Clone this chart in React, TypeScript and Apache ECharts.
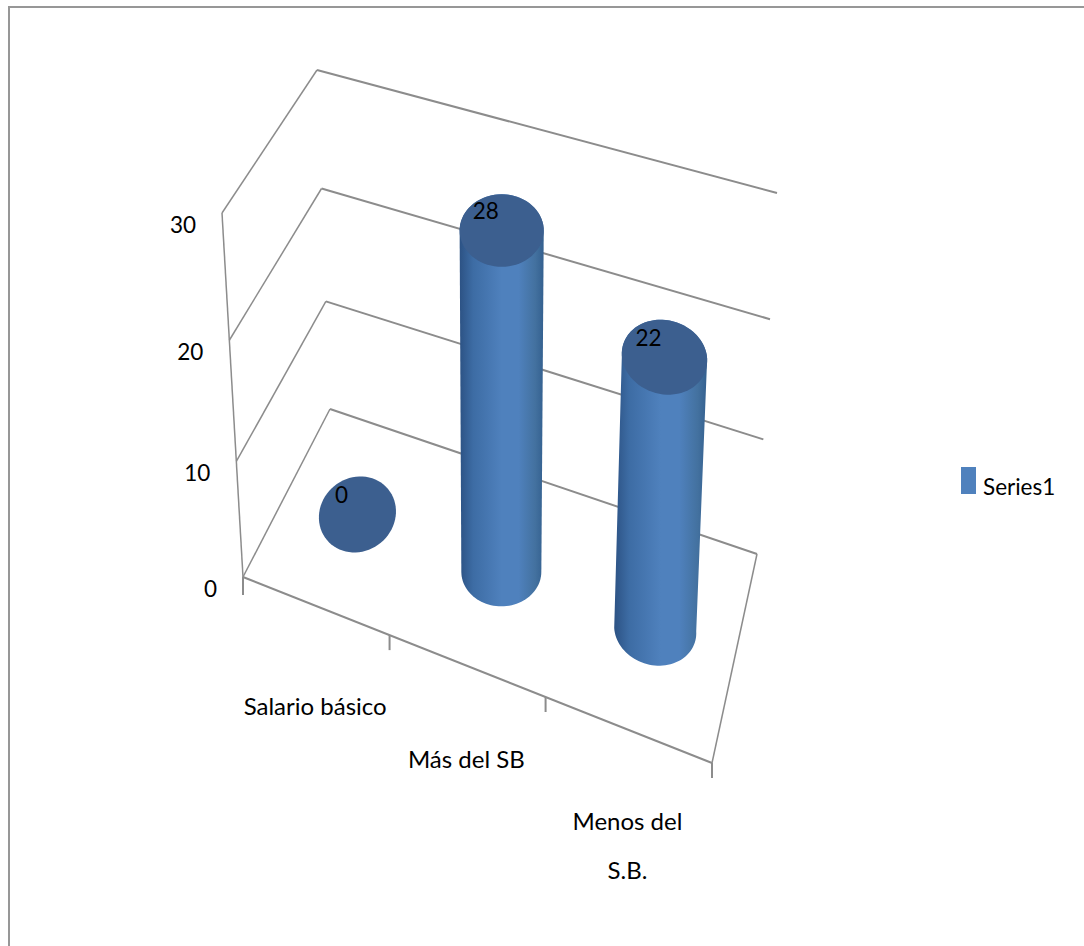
import React, { useEffect, useRef } from "react";
import * as echarts from "echarts";

const categories = ["Salario básico", "Más del SB", "Menos del\nS.B."];
const seriesValues = [0, 28, 22];
const valueTicks = [0, 10, 20, 30];
const seriesName = "Series1";

const W = 1084, H = 946;
const FONT = "Lato, 'Open Sans', sans-serif";
const GRID_COLOR = "#8c8c8c";
const CAP_COLOR = "#3c5f8f";
const BAR_COLOR = "#4f81bd";

// 3D box corners on screen (floor and ceiling of the plot box)
type Pt = [number, number];
const FL: Pt = [243, 577], FR: Pt = [712, 763], BR: Pt = [757, 554], BL: Pt = [330, 409];
const FLt: Pt = [222, 213], FRt: Pt = [731, 354], BRt: Pt = [777, 193], BLt: Pt = [317, 70];
const lerp = (a: Pt, b: Pt, t: number): Pt => [a[0] + (b[0] - a[0]) * t, a[1] + (b[1] - a[1]) * t];
const warpU = (u: number) => u / (1 + 0.1 * (1 - u));
const warpV = (s: number) => s / (1 + 0.075 * (1 - s));
function project(u: number, d: number, s: number): Pt {
  const w = warpU(u);
  const floor = lerp(lerp(FL, FR, w), lerp(BL, BR, w), d);
  const top = lerp(lerp(FLt, FRt, w), lerp(BLt, BRt, w), d);
  return lerp(floor, top, warpV(s));
}
// normalised position from the (hidden) cartesian axes
function norm(api: any, cat: number, val: number): [number, number] {
  const c = api.coord([cat, val]);
  return [c[0] / W, 1 - c[1] / H];
}

const RX = [38.5, 40, 41];
const RY = [38, 34.5, 36];
const TILT = [1.8, 0, -2.2];
const NUDGE: Pt[] = [[2, -4], [1.5, 0], [1.5, 1]];
const LABEL_DROP = [99, 92, 91];

function arc(c: Pt, rx: number, ry: number, tilt: number, from: number, to: number, n = 48): Pt[] {
  const out: Pt[] = [];
  for (let i = 0; i <= n; i++) {
    const a = from + ((to - from) * i) / n;
    out.push([c[0] + rx * Math.cos(a) - tilt * Math.sin(a), c[1] + ry * Math.sin(a) - 0.7 * tilt * Math.cos(a)]);
  }
  return out;
}

const bodyGradient = new echarts.graphic.LinearGradient(0, 0, 1, 0, [
  { offset: 0, color: "#2c5284" },
  { offset: 0.16, color: "#3d6ca4" },
  { offset: 0.5, color: "#4f81bd" },
  { offset: 0.7, color: "#4f81bd" },
  { offset: 0.9, color: "#43719f" },
  { offset: 1, color: "#34608f" },
]);

function renderFrame(_: any, api: any) {
  const s = norm(api, 0, api.value(1))[1];
  const a = project(0, 0, s), b = project(0, 1, s), c = project(1, 1, s);
  const wide = { stroke: GRID_COLOR, lineWidth: 2, fill: "none" };
  const thin = { stroke: GRID_COLOR, lineWidth: 1.5 };
  const children: any[] = [
    { type: "line", shape: { x1: a[0], y1: a[1], x2: b[0], y2: b[1] }, style: thin },
    { type: "line", shape: { x1: b[0], y1: b[1], x2: c[0], y2: c[1] }, style: wide },
    {
      type: "text",
      style: { x: a[0] - 26, y: a[1] + 11, text: String(api.value(1)), fontSize: 22.5, fontFamily: FONT, fill: "#000", align: "right", verticalAlign: "middle" },
    },
  ];
  if (s === 0) {
    const fr = project(1, 0, 0);
    children.push({ type: "line", shape: { x1: a[0], y1: a[1], x2: fr[0], y2: fr[1] }, style: wide });
    children.push({ type: "line", shape: { x1: fr[0], y1: fr[1], x2: c[0], y2: c[1] }, style: thin });
    children.push({ type: "line", shape: { x1: a[0], y1: a[1], x2: a[0], y2: a[1] + 18 }, style: wide });
    const top = project(0, 0, 1);
    children.push({ type: "line", shape: { x1: a[0], y1: a[1], x2: top[0], y2: top[1] }, style: thin });
  }
  return { type: "group", children };
}

function renderCategory(params: any, api: any) {
  const i = params.dataIndex;
  const u = norm(api, api.value(0), 0)[0];
  const tick = project(u + 1 / 6, 0, 0);
  const mid = project(u, 0, 0);
  const text = categories[i];
  return {
    type: "group",
    children: [
      { type: "line", shape: { x1: tick[0], y1: tick[1], x2: tick[0], y2: tick[1] + 15 }, style: { stroke: GRID_COLOR, lineWidth: 2 } },
      {
        type: "text",
        style: { x: mid[0], y: mid[1] + LABEL_DROP[i], text, fontSize: 24, lineHeight: 49, fontFamily: FONT, fill: "#000", align: "center", verticalAlign: "top" },
        y: -24,
      },
    ],
  };
}

function renderCylinder(params: any, api: any) {
  const i = params.dataIndex;
  const [u] = norm(api, api.value(0), 0);
  const s = norm(api, api.value(0), api.value(1))[1];
  const b0 = project(u, 0.5, 0);
  const t0 = project(u, 0.5, s);
  const base: Pt = [b0[0] + NUDGE[i][0], b0[1] + NUDGE[i][1]];
  const top: Pt = [t0[0] + NUDGE[i][0], t0[1] + NUDGE[i][1]];
  const rx0 = RX[i], ry0 = RY[i], grow = 1 + 0.055 * s;
  const tilt = TILT[i];
  const children: any[] = [];
  if (s > 0) {
    const body = [
      ...arc(top, rx0 * grow, ry0 * grow, tilt, Math.PI, 2 * Math.PI),
      ...arc(base, rx0, ry0, tilt, 0, Math.PI),
    ];
    children.push({ type: "polygon", shape: { points: body }, style: { fill: bodyGradient } });
  }
  children.push({
    type: "polygon",
    shape: { points: arc(top, rx0 * grow, ry0 * grow, tilt, 0, 2 * Math.PI, 72) },
    style: { fill: CAP_COLOR },
  });
  children.push({
    type: "text",
    style: { x: top[0] - 16, y: top[1] - 20, text: String(api.value(1)), fontSize: 22.5, fontFamily: FONT, fill: "#000", align: "center", verticalAlign: "middle" },
  });
  return { type: "group", children };
}

export default function App() {
  const ref = useRef<HTMLDivElement>(null);
  useEffect(() => {
    document.body.style.margin = "0";
    document.body.style.overflow = "hidden";
    const chart = echarts.init(ref.current!, null, { renderer: "svg" });
    chart.setOption({
      animation: false,
      backgroundColor: "#fff",
      grid: { left: 0, top: 0, width: W, height: H },
      xAxis: { type: "category", data: categories, show: false },
      yAxis: { type: "value", min: 0, max: 30, interval: 10, show: false },
      legend: {
        left: 961,
        top: 467,
        padding: 0,
        itemWidth: 15,
        itemHeight: 27,
        icon: "rect",
        itemGap: 0,
        data: [{ name: seriesName, itemStyle: { color: BAR_COLOR } }],
        selectedMode: false,
        formatter: "{a|{name}}",
        textStyle: {
          rich: { a: { fontSize: 22.5, fontFamily: FONT, color: "#000", padding: [12, 0, 0, 2] } },
        },
      },
      graphic: [
        { type: "rect", silent: true, shape: { x: 9, y: 7, width: 1300, height: 1300 }, style: { fill: "none", stroke: "#979797", lineWidth: 2 } },
      ],
      series: [
        { type: "custom", silent: true, z: 2, renderItem: renderFrame, data: valueTicks.map((t) => [0, t]) },
        { type: "custom", silent: true, z: 2, renderItem: renderCategory, data: categories.map((_, i) => [i, 0]) },
        {
          type: "custom",
          name: seriesName,
          silent: true,
          z: 3,
          itemStyle: { color: BAR_COLOR },
          renderItem: renderCylinder,
          data: seriesValues.map((v, i) => [i, v]),
        },
      ],
    });
    return () => chart.dispose();
  }, []);
  return <div ref={ref} style={{ width: W, height: H, position: "absolute", left: 0, top: 0 }} />;
}
